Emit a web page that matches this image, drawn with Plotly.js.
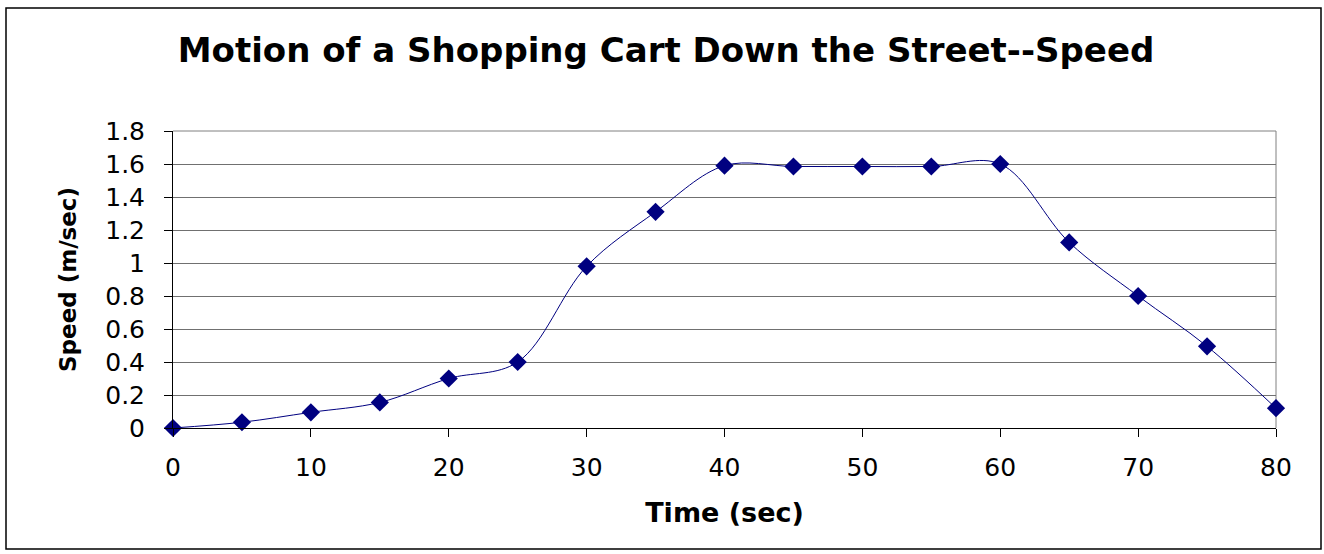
<!DOCTYPE html>
<html>
<head>
<meta charset="utf-8">
<script src="https://cdn.plot.ly/plotly-3.0.1.min.js"></script>
<style>
  html, body { margin: 0; padding: 0; background: #fff; }
  #chart { width: 1324px; height: 554px; }
</style>
</head>
<body>
<div id="chart"></div>
<script>
// Data
const timeSec = [0, 5, 10, 15, 20, 25, 30, 35, 40, 45, 50, 55, 60, 65, 70, 75, 80];
const speedMps = [0, 0.035, 0.095, 0.155, 0.30, 0.40, 0.98, 1.31, 1.59, 1.585, 1.585, 1.585, 1.60, 1.125, 0.80, 0.495, 0.12];
const xTickVals = [0, 10, 20, 30, 40, 50, 60, 70, 80];
const yTickVals = [0, 0.2, 0.4, 0.6, 0.8, 1, 1.2, 1.4, 1.6, 1.8];
const yTickText = ['0', '0.2', '0.4', '0.6', '0.8', '1', '1.2', '1.4', '1.6', '1.8'];

const FONT = 'DejaVu Sans, Arial, sans-serif';

const trace = {
  type: 'scatter',
  mode: 'lines+markers',
  x: timeSec,
  y: speedMps,
  line: { color: '#000080', width: 1, shape: 'spline', smoothing: 1 },
  marker: { symbol: 'diamond', size: 14, color: '#000080', line: { width: 0 } },
  cliponaxis: false,
  hoverinfo: 'x+y'
};

const layout = {
  width: 1324,
  height: 554,
  paper_bgcolor: '#ffffff',
  plot_bgcolor: '#ffffff',
  margin: { l: 173, r: 48, t: 131, b: 126, pad: 0 },
  showlegend: false,
  title: {
    text: 'Motion of a Shopping Cart Down the Street--Speed',
    font: { family: FONT, size: 34, color: '#000', weight: 'bold' },
    x: 666 / 1324, xref: 'container', xanchor: 'center',
    y: 1 - 50 / 554, yref: 'container', yanchor: 'middle'
  },
  xaxis: {
    range: [0, 80],
    tickmode: 'array',
    tickvals: xTickVals,
    ticks: 'outside', ticklen: 8, tickcolor: '#000', tickwidth: 1,
    ticklabelstandoff: 9,
    showgrid: false,
    zeroline: false,
    showline: true, linecolor: '#000', linewidth: 1,
    mirror: false,
    tickfont: { family: FONT, size: 25, color: '#000' },
    title: { text: 'Time (sec)', font: { family: FONT, size: 27, color: '#000', weight: 'bold' }, standoff: 22 },
    fixedrange: true
  },
  yaxis: {
    range: [0, 1.8],
    tickmode: 'array',
    tickvals: yTickVals,
    ticktext: yTickText,
    ticks: 'outside', ticklen: 8, tickcolor: '#000', tickwidth: 1,
    ticklabelstandoff: 14,
    showgrid: true, gridcolor: '#707070', gridwidth: 1,
    zeroline: false,
    showline: true, linecolor: '#000', linewidth: 1,
    tickfont: { family: FONT, size: 25, color: '#000' },
    title: { text: 'Speed (m/sec)', font: { family: FONT, size: 23, color: '#000', weight: 'bold' }, standoff: 22 },
    fixedrange: true
  },
  shapes: [
    // plot-area border (top and right, grey)
    { type: 'line', xref: 'paper', yref: 'paper', x0: 0, x1: 1, y0: 1, y1: 1, line: { color: '#808080', width: 1 }, layer: 'below' },
    { type: 'line', xref: 'paper', yref: 'paper', x0: 1, x1: 1, y0: 0, y1: 1, line: { color: '#808080', width: 1 }, layer: 'below' },
    // chart-area outer border
    { type: 'rect', xref: 'paper', yref: 'paper',
      x0: (6 - 173) / 1103, x1: (1321 - 173) / 1103,
      y0: (428 - 549) / 297, y1: (428 - 8) / 297,
      line: { color: '#000', width: 1.5 }, fillcolor: 'rgba(0,0,0,0)', layer: 'below' }
  ]
};

Plotly.newPlot('chart', [trace], layout, { displayModeBar: false, staticPlot: true });
</script>
</body>
</html>
